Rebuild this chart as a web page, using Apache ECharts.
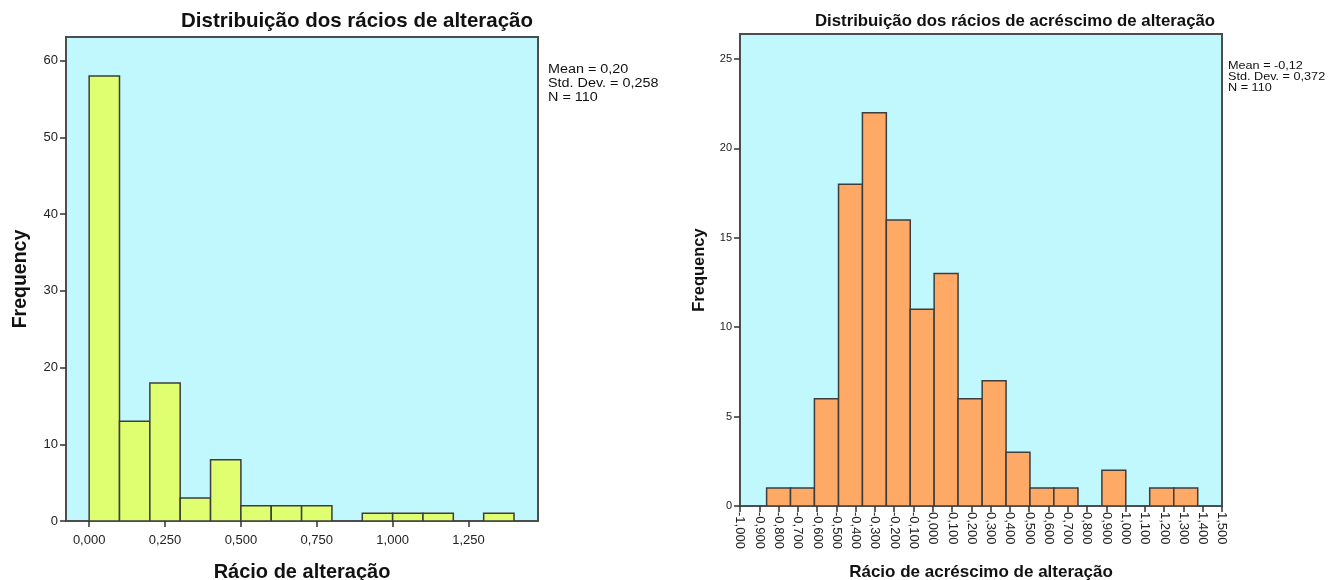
<!DOCTYPE html>
<html>
<head>
<meta charset="utf-8">
<script src="https://cdn.jsdelivr.net/npm/echarts@6/dist/echarts.min.js"></script>
<style>
  html, body { margin: 0; padding: 0; background: #ffffff; }
  #chart { width: 1329px; height: 580px; }
</style>
</head>
<body>
<div id="chart"></div>
<script>
// Left histogram: change ratios (bin edges and frequencies)
const ratioBinEdges = [0, 0.1, 0.2, 0.3, 0.4, 0.5, 0.6, 0.7, 0.8, 0.9, 1.0, 1.1, 1.2, 1.3, 1.4];
const ratioCounts = [58, 13, 18, 3, 8, 2, 2, 2, 0, 1, 1, 1, 0, 1];
const ratioTicks = [0, 0.25, 0.5, 0.75, 1.0, 1.25];
const ratioFreqTicks = [0, 10, 20, 30, 40, 50, 60];
const ratioStats = ['Mean = 0,20', 'Std. Dev. = 0,258', 'N = 110'];

// Right histogram: increase-of-change ratios (bin edges and frequencies)
const incBinEdges = [-0.862, -0.738, -0.614, -0.489, -0.365, -0.241, -0.117, 0.007, 0.131,
  0.256, 0.380, 0.504, 0.628, 0.753, 0.877, 1.001, 1.125, 1.250, 1.374];
const incCounts = [1, 1, 6, 18, 22, 16, 11, 13, 6, 7, 3, 1, 1, 0, 2, 0, 1, 1];
const incTicks = [-1.0, -0.9, -0.8, -0.7, -0.6, -0.5, -0.4, -0.3, -0.2, -0.1, 0.0, 0.1, 0.2,
  0.3, 0.4, 0.5, 0.6, 0.7, 0.8, 0.9, 1.0, 1.1, 1.2, 1.3, 1.4, 1.5];
const incFreqTicks = [0, 5, 10, 15, 20, 25];
const incStats = ['Mean = -0,12', 'Std. Dev. = 0,372', 'N = 110'];

const FONT = '"Liberation Sans", Arial, sans-serif';
const EDGE = '#4d4d4d';
const PLOT_BG = '#c0f8fe';

function toBins(edges, counts) {
  const rows = [];
  counts.forEach((c, i) => { if (c > 0) rows.push([edges[i], edges[i + 1], c]); });
  return rows;
}

function barRenderer(fill) {
  return function (params, api) {
    const topLeft = api.coord([api.value(0), api.value(2)]);
    const bottomRight = api.coord([api.value(1), 0]);
    return {
      type: 'rect',
      shape: {
        x: topLeft[0], y: topLeft[1],
        width: bottomRight[0] - topLeft[0],
        height: bottomRight[1] - topLeft[1]
      },
      style: { fill: fill, stroke: '#3d3d3d', lineWidth: 1.5 }
    };
  };
}

const commaFixed = v => v.toFixed(3).replace('.', ',');

function valueAxis(extra) {
  return Object.assign({
    type: 'value',
    splitLine: { show: false },
    axisLine: { show: true, onZero: false, lineStyle: { color: EDGE, width: 2 } }
  }, extra);
}

function ticks(values) {
  return { show: true, inside: false, length: 6, customValues: values, lineStyle: { color: '#333', width: 1.5 } };
}

const chart = echarts.init(document.getElementById('chart'), null, { renderer: 'canvas' });

chart.setOption({
  animation: false,
  grid: [
    { left: 66, top: 37, width: 472, height: 484, show: true, backgroundColor: PLOT_BG,
      borderColor: EDGE, borderWidth: 2, containLabel: false, outerBoundsMode: 'none' },
    { left: 740, top: 34, width: 482, height: 472, show: true, backgroundColor: PLOT_BG,
      borderColor: EDGE, borderWidth: 2, containLabel: false, outerBoundsMode: 'none' }
  ],
  xAxis: [
    valueAxis({
      gridIndex: 0, min: -0.0763, max: 1.479,
      axisTick: ticks(ratioTicks),
      axisLabel: { customValues: ratioTicks, formatter: commaFixed, color: '#222',
        fontFamily: FONT, fontSize: 13, margin: 13 },
      name: 'Rácio de alteração', nameLocation: 'middle', nameGap: 41,
      nameTextStyle: { fontFamily: FONT, fontWeight: 'bold', fontSize: 20, color: '#111' }
    }),
    valueAxis({
      gridIndex: 1, min: -1.0, max: 1.5,
      axisTick: ticks(incTicks),
      axisLabel: { customValues: incTicks, formatter: commaFixed, rotate: -90, color: '#222',
        fontFamily: FONT, fontSize: 13, margin: 6 },
      name: 'Rácio de acréscimo de alteração', nameLocation: 'middle', nameGap: 58,
      nameTextStyle: { fontFamily: FONT, fontWeight: 'bold', fontSize: 17, color: '#111' }
    })
  ],
  yAxis: [
    valueAxis({
      gridIndex: 0, min: 0, max: 63.1,
      axisTick: ticks(ratioFreqTicks),
      axisLabel: { customValues: ratioFreqTicks, color: '#222', fontFamily: FONT, fontSize: 13, margin: 8 },
      name: 'Frequency', nameLocation: 'middle', nameGap: 35,
      nameTextStyle: { fontFamily: FONT, fontWeight: 'bold', fontSize: 19.5, color: '#111' }
    }),
    valueAxis({
      gridIndex: 1, min: 0, max: 26.4,
      axisTick: ticks(incFreqTicks),
      axisLabel: { customValues: incFreqTicks, color: '#222', fontFamily: FONT, fontSize: 11, margin: 8 },
      name: 'Frequency', nameLocation: 'middle', nameGap: 32,
      nameTextStyle: { fontFamily: FONT, fontWeight: 'bold', fontSize: 16.5, color: '#111' }
    })
  ],
  series: [
    {
      type: 'custom', xAxisIndex: 0, yAxisIndex: 0, clip: true,
      renderItem: barRenderer('#e0ff70'),
      encode: { x: [0, 1], y: 2 },
      data: toBins(ratioBinEdges, ratioCounts)
    },
    {
      type: 'custom', xAxisIndex: 1, yAxisIndex: 1, clip: true,
      renderItem: barRenderer('#ffa966'),
      encode: { x: [0, 1], y: 2 },
      data: toBins(incBinEdges, incCounts)
    }
  ],
  graphic: [
    { type: 'text', x: 357, y: 21,
      style: { text: 'Distribuição dos rácios de alteração', fontFamily: FONT, fontWeight: 'bold',
        fontSize: 20.5, fill: '#111', align: 'center', verticalAlign: 'middle' } },
    { type: 'text', x: 1015, y: 21,
      style: { text: 'Distribuição dos rácios de acréscimo de alteração', fontFamily: FONT, fontWeight: 'bold',
        fontSize: 16.8, fill: '#111', align: 'center', verticalAlign: 'middle' } },
    { type: 'text', x: 548, y: 63, scaleX: 1.15,
      style: { text: ratioStats.join('\n'), fontFamily: FONT, fontSize: 12.5, lineHeight: 14,
        fill: '#111', align: 'left', verticalAlign: 'top' } },
    { type: 'text', x: 1228, y: 60, scaleX: 1.15,
      style: { text: incStats.join('\n'), fontFamily: FONT, fontSize: 11, lineHeight: 11,
        fill: '#111', align: 'left', verticalAlign: 'top' } }
  ]
});
</script>
</body>
</html>
